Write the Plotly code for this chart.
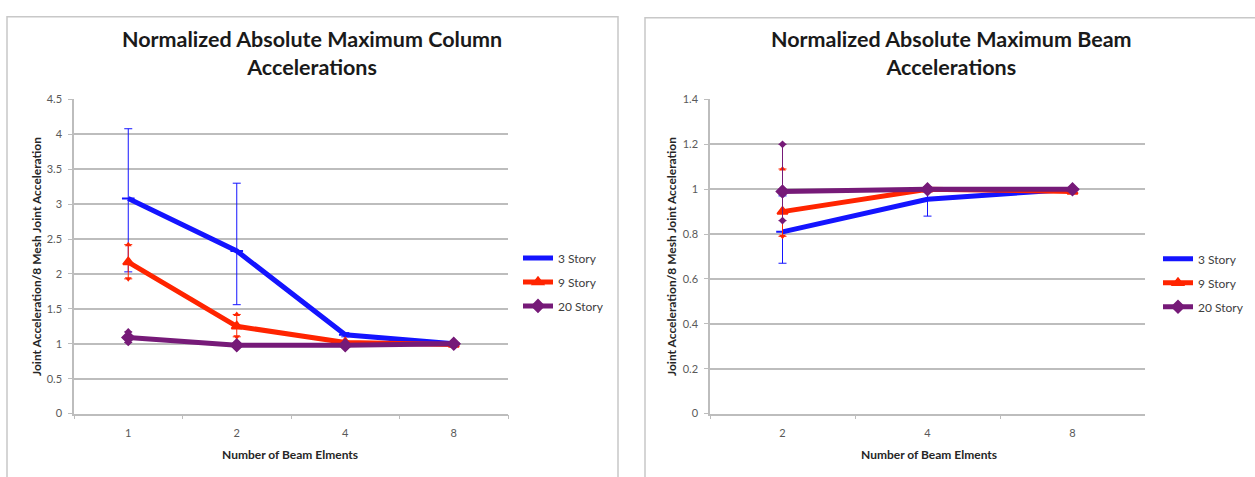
import plotly.graph_objects as go

# ---------------- data ----------------
col_x = ["1", "2", "4", "8"]
col_3 = [3.08, 2.33, 1.13, 1.00]
col_3_plus = [1.00, 0.97, 0.03, 0.0]
col_3_minus = [1.05, 0.77, 0.03, 0.0]
col_9 = [2.17, 1.25, 1.02, 0.99]
col_9_plus = [0.25, 0.17, 0.02, 0.0]
col_9_minus = [0.24, 0.15, 0.02, 0.0]
col_20 = [1.09, 0.98, 0.98, 1.00]
col_20_plus = [0.08, 0.02, 0.02, 0.0]
col_20_minus = [0.07, 0.03, 0.02, 0.0]

beam_x = ["2", "4", "8"]
beam_3 = [0.81, 0.955, 1.00]
beam_3_plus = [0.16, 0.05, 0.0]
beam_3_minus = [0.14, 0.075, 0.0]
beam_9 = [0.90, 1.00, 0.99]
beam_9_plus = [0.19, 0.01, 0.0]
beam_9_minus = [0.11, 0.01, 0.0]
beam_20 = [0.99, 1.00, 1.00]
beam_20_plus = [0.21, 0.01, 0.0]
beam_20_minus = [0.13, 0.01, 0.0]

series_names = ["3 Story", "9 Story", "20 Story"]
colors = ["#1414ff", "#ff2400", "#761a78"]
symbols = ["line-ew", "triangle-up", "diamond"]
end_up = [None, "triangle-up", "diamond"]
end_down = [None, "triangle-down", "diamond"]

W, H = 1255, 477
FONT = "Lato"


def px(x):
    return x / W


def py(y):
    return 1 - y / H


fig = go.Figure()

left = [(col_3, col_3_plus, col_3_minus), (col_9, col_9_plus, col_9_minus), (col_20, col_20_plus, col_20_minus)]
right = [(beam_3, beam_3_plus, beam_3_minus), (beam_9, beam_9_plus, beam_9_minus), (beam_20, beam_20_plus, beam_20_minus)]


def add_series(xcats, data, xa, ya, leg, prefix):
    for i, (vals, pl, mi) in enumerate(data):
        fig.add_trace(go.Scatter(
            x=xcats, y=vals, name=series_names[i], mode="lines+markers",
            line=dict(color=colors[i], width=5),
            marker=dict(symbol=symbols[i], size=9, color=colors[i], line=dict(color=colors[i], width=2)),
            error_y=dict(type="data", array=pl, arrayminus=mi, color=colors[i], thickness=1, width=4),
            legendgroup=prefix + str(i), xaxis=xa, yaxis=ya, legend=leg,
        ))
        if end_up[i]:
            xs = [c for c, p in zip(xcats, pl) if p > 0.05]
            tops = [v + p for v, p in zip(vals, pl) if p > 0.05]
            xs2 = [c for c, m in zip(xcats, mi) if m > 0.05]
            bots = [v - m for v, m in zip(vals, mi) if m > 0.05]
            fig.add_trace(go.Scatter(x=xs, y=tops, mode="markers", showlegend=False,
                                     marker=dict(symbol=end_up[i], size=6, color=colors[i]),
                                     xaxis=xa, yaxis=ya, hoverinfo="skip"))
            fig.add_trace(go.Scatter(x=xs2, y=bots, mode="markers", showlegend=False,
                                     marker=dict(symbol=end_down[i], size=6, color=colors[i]),
                                     xaxis=xa, yaxis=ya, hoverinfo="skip"))


add_series(col_x, left, "x", "y", "legend", "L")
add_series(beam_x, right, "x2", "y2", "legend2", "R")

grid = "#bdbdbd"
tickfont = dict(family=FONT, size=11, color="#595959")

xcommon = dict(type="category", tickson="boundaries", ticks="outside", ticklen=4,
               tickcolor=grid, showgrid=False, showline=True, linecolor=grid,
               linewidth=1.5, tickfont=tickfont, zeroline=False, fixedrange=True,
               ticklabelstandoff=8)
ycommon = dict(showgrid=True, gridcolor=grid, gridwidth=1.8, showline=True, linecolor=grid,
               linewidth=1.5, ticks="outside", ticklen=4, tickcolor=grid, tickfont=tickfont,
               zeroline=False, fixedrange=True, ticklabelstandoff=4)

legfont = dict(family=FONT, size=12, color="#404040")

fig.update_layout(
    width=W, height=H,
    margin=dict(l=0, r=0, t=0, b=0),
    paper_bgcolor="white", plot_bgcolor="white",
    font=dict(family=FONT),
    xaxis=dict(domain=[px(74), px(508)], range=[-0.5, 3.5], anchor="y", **xcommon),
    yaxis=dict(domain=[py(418), py(95)], range=[0, 4.5], dtick=0.5, anchor="x", **ycommon),
    xaxis2=dict(domain=[px(710), px(1145)], range=[-0.5, 2.5], anchor="y2", **xcommon),
    yaxis2=dict(domain=[py(418), py(95)], range=[0, 1.4], dtick=0.2, anchor="x2", **ycommon),
    legend=dict(x=px(518), y=py(243), xanchor="left", yanchor="top", font=legfont,
                tracegroupgap=5, bgcolor="rgba(0,0,0,0)", itemwidth=30),
    legend2=dict(x=px(1158), y=py(244), xanchor="left", yanchor="top", font=legfont,
                 tracegroupgap=5, bgcolor="rgba(0,0,0,0)", itemwidth=30),
    showlegend=True,
)

# frames
fig.add_shape(type="rect", xref="paper", yref="paper", x0=px(7), x1=px(618), y0=-0.05, y1=py(10),
              line=dict(color="#c8c8c8", width=1.5), layer="below")
fig.add_shape(type="rect", xref="paper", yref="paper", x0=px(645), x1=1.05, y0=-0.05, y1=py(11),
              line=dict(color="#c8c8c8", width=1.5), layer="below")

title_font = dict(family=FONT, size=21.5, color="#1a1a1a")
fig.add_annotation(text="<b>Normalized Absolute Maximum Column<br>Accelerations</b>",
                   xref="paper", yref="paper", x=px(312), y=py(47), showarrow=False,
                   font=title_font, xanchor="center", yanchor="middle")
fig.add_annotation(text="<b>Normalized Absolute Maximum Beam<br>Accelerations</b>",
                   xref="paper", yref="paper", x=px(951), y=py(47), showarrow=False,
                   font=title_font, xanchor="center", yanchor="middle")

axis_title_font = dict(family=FONT, size=12, color="#262626")
fig.add_annotation(text="<b>Number of Beam Elments</b>", xref="paper", yref="paper",
                   x=px(290), y=py(460), showarrow=False, font=axis_title_font,
                   xanchor="center", yanchor="middle")
fig.add_annotation(text="<b>Number of Beam Elments</b>", xref="paper", yref="paper",
                   x=px(929), y=py(460), showarrow=False, font=axis_title_font,
                   xanchor="center", yanchor="middle")
fig.add_annotation(text="<b>Joint Acceleration/8 Mesh Joint Acceleration</b>", xref="paper",
                   yref="paper", x=px(37), y=py(257), showarrow=False, textangle=-90,
                   font=axis_title_font, xanchor="center", yanchor="middle")
fig.add_annotation(text="<b>Joint Acceleration/8 Mesh Joint Acceleration</b>", xref="paper",
                   yref="paper", x=px(672), y=py(257), showarrow=False, textangle=-90,
                   font=axis_title_font, xanchor="center", yanchor="middle")

fig.write_html("out.html", config={"displayModeBar": False},
               post_script="document.body.style.margin='0';document.body.style.overflow='hidden';")
